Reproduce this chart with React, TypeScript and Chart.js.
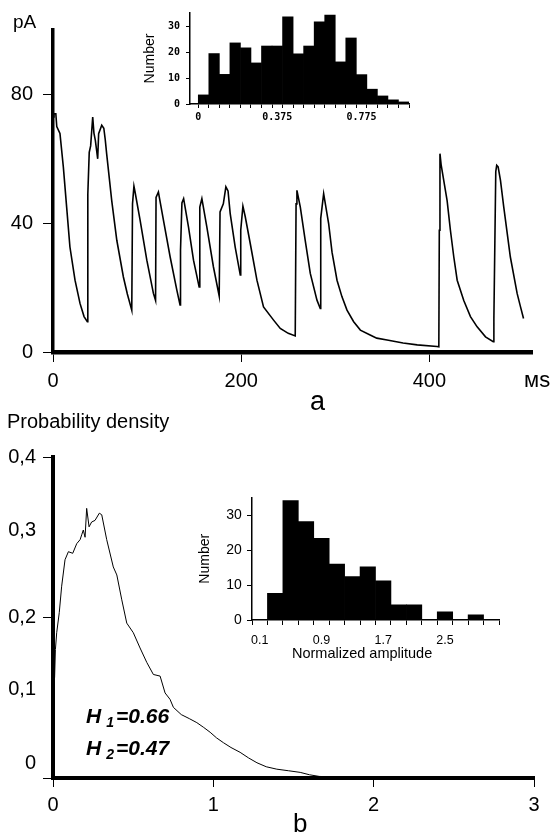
import React, { useEffect, useRef } from "react";
import { Chart, registerables } from "chart.js";

Chart.register(...registerables);

// ---------------- Panel a: current trace ----------------
const timeMs = [
  0, 1, 3, 4, 7.4, 11, 14.5, 18, 23.4, 28.7, 33, 36.5,
  37, 38.5, 40, 42.2, 43.5, 45, 47.5, 48.5, 51.8, 54, 55.5,
  57, 62.4, 67.8, 74.8, 79, 83.7,
  84.5, 86, 87, 92.5, 99.7, 106.7, 109,
  109.5, 112, 113, 117.3, 124.5, 131.6, 135,
  135.5, 137, 138.8, 144, 149.3, 155.3,
  156, 158.2, 163.5, 170.5, 176.6,
  177.5, 181, 183.7, 186, 188.3, 193.6, 199,
  199.5, 201.8, 204.3, 209.6, 216.7, 223.7, 234.4, 241.5, 250, 257.4,
  258.3, 259.2, 262.8, 268, 273.4, 280.5, 284,
  284.5, 287.6, 292.9, 296.5, 301.8, 307, 312.4, 319.5, 326.6, 337, 344, 355, 372, 387, 408, 410,
  410.5, 411.2, 412.5, 418.8, 422.3, 425.9, 429.5, 436.5, 443.6, 450.7, 459.6, 467.8,
  468.5, 470.5, 471.5, 473, 475.5, 479, 486, 493.2, 496.8, 500,
];
const currentPa = [
  73, 74, 74, 70, 67.9, 57.4, 45, 32.6, 22.3, 15.1, 11, 9.4,
  49, 62, 64, 73, 68, 65.7, 60, 67.8, 70.4, 69.5, 66,
  61.6, 47, 34.7, 23.3, 18, 13,
  46, 51.5, 50, 41, 28.5, 18.2, 16,
  48, 49.7, 48, 41, 29.5, 19.2, 14.6,
  31.6, 46.3, 47.6, 38.8, 28.5, 20.2,
  45, 47.6, 38.8, 26.4, 17.4,
  43.5, 46, 51.3, 50, 43, 32.6, 23.9,
  37.8, 45.3, 42, 33.7, 22.3, 14, 9.9, 7.3, 5.8, 5,
  46, 50.2, 45, 34.7, 24.4, 16.1, 13.5,
  41.5, 49.2, 39.9, 31, 22.3, 17.2, 13, 9.4, 6.8, 5.3, 4.3, 3.7, 2.8, 2.2, 1.7, 1.6,
  37.8, 61.6, 58, 47, 37.8, 29.5, 22.3, 16, 11, 7.8, 4.7, 3.2,
  10.4, 56, 58, 57.5, 53.3, 45, 29.5, 18.2, 14, 10.4,
];
const xTicksA = [0, 200, 400];
const yTicksA = [0, 40, 80];

// ---------------- Inset a: histogram ----------------
const insetABinStart = 0;
const insetABinWidth = 0.05;
const insetACounts = [
  3.5, 19.4, 11.4, 23.5, 21.6, 15.8, 22.3, 22.3, 33.5, 19.3,
  22.3, 31.6, 34.2, 16.2, 25.4, 11.3, 5.7, 3.1, 1.6, 0.8,
];
const insetALabelValues = [0, 0.375, 0.775];
const insetALabelTexts = ["0", "0.375", "0.775"];
const insetAYTicks = [0, 10, 20, 30];

// ---------------- Panel b: probability density ----------------
const ampB = [
  0.01, 0.015, 0.023, 0.039, 0.054, 0.075, 0.096, 0.123, 0.148, 0.169,
  0.179, 0.189, 0.2, 0.21, 0.225, 0.241, 0.262, 0.289, 0.304, 0.335,
  0.376, 0.398, 0.429, 0.46, 0.501, 0.543, 0.585, 0.626, 0.668, 0.699,
  0.73, 0.751, 0.8, 0.85, 0.897, 0.94, 0.98, 1.02, 1.063, 1.11,
  1.167, 1.22, 1.272, 1.33, 1.396, 1.47, 1.542, 1.6, 1.66, 1.75, 1.8,
];
const densityB = [
  0.125, 0.16, 0.181, 0.206, 0.239, 0.272, 0.282, 0.28, 0.292, 0.297,
  0.303, 0.309, 0.3, 0.336, 0.313, 0.319, 0.321, 0.33, 0.328, 0.297,
  0.263, 0.253, 0.222, 0.193, 0.181, 0.162, 0.144, 0.129, 0.127, 0.106,
  0.098, 0.088, 0.079, 0.074, 0.069, 0.063, 0.057, 0.05, 0.044, 0.038,
  0.032, 0.025, 0.019, 0.014, 0.011, 0.009, 0.007, 0.004, 0.002, 0.001, 0,
];
const xTicksB = [0, 1, 2, 3];
const yTicksB = [0, 0.1, 0.2, 0.3, 0.4];
const yTickLabelsB = ["0", "0,1", "0,2", "0,3", "0,4"];
const yTickMarksB = [0, 0.2, 0.4];

// ---------------- Inset b: histogram ----------------
const insetBBinStart = 0;
const insetBBinWidth = 0.2;
const insetBCounts = [0, 7.6, 34.1, 28.1, 23.3, 16, 12.4, 15.2, 11.2, 4.3, 4.3, 0, 2.3, 0, 1.5, 0];
const insetBLabelValues = [0.1, 0.9, 1.7, 2.5];
const insetBLabelTexts = ["0.1", "0.9", "1.7", "2.5"];
const insetBYTicks = [0, 10, 20, 30];

// ---------------- helpers ----------------
const FONT = '"Liberation Sans", Arial, Helvetica, sans-serif';
const PIXEL_FONT = '"DejaVu Sans Mono", monospace';
const near = (a: number, b: number) => Math.abs(a - b) < 1e-6;
const binEdges = (start: number, w: number, n: number) =>
  Array.from({ length: n + 1 }, (_, i) => +(start + i * w).toFixed(6));
const binBars = (start: number, w: number, counts: number[]) =>
  counts.map((c, i) => ({ x: +(start + (i + 0.5) * w).toFixed(6), y: c }));

const setTicks = (vals: number[]) => (s: any) => {
  s.ticks = vals.map((v) => ({ value: v }));
};

function mainAConfig(): any {
  return {
    type: "line",
    data: {
      datasets: [
        {
          data: timeMs.map((t, i) => ({ x: t, y: currentPa[i] })),
          borderColor: "#000",
          borderWidth: 1.6,
          pointRadius: 0,
          tension: 0,
          fill: false,
        },
      ],
    },
    options: {
      animation: false,
      responsive: false,
      maintainAspectRatio: false,
      events: [],
      layout: { padding: { left: 0, top: 30, right: 22, bottom: 0 } },
      plugins: { legend: { display: false }, tooltip: { enabled: false } },
      scales: {
        x: {
          type: "linear",
          min: 0,
          max: 509,
          offset: false,
          afterBuildTicks: setTicks(xTicksA),
          afterFit: (s: any) => {
            s.height = 48;
          },
          grid: { drawOnChartArea: false, tickLength: 10, tickWidth: 1, tickColor: "#000", offset: false },
          border: { display: true, color: "#000", width: 4.5 },
          ticks: {
            color: "#000",
            font: { family: FONT, size: 20 },
            padding: 7,
            maxRotation: 0,
            autoSkip: false,
            callback: (v: any) => String(v),
          },
        },
        y: {
          type: "linear",
          min: 0,
          max: 100,
          afterBuildTicks: setTicks(yTicksA),
          afterFit: (s: any) => {
            s.width = 53;
          },
          grid: { drawOnChartArea: false, tickLength: 10, tickWidth: 1, tickColor: "#000" },
          border: { display: true, color: "#000", width: 3.5 },
          ticks: {
            color: "#000",
            font: { family: FONT, size: 20 },
            padding: 10,
            autoSkip: false,
            callback: (v: any) => String(v),
          },
        },
      },
    },
  };
}

function histConfig(opts: {
  start: number;
  width: number;
  counts: number[];
  labelValues: number[];
  labelTexts: string[];
  yTicks: number[];
  xMin: number;
  xMax: number;
  yMax: number;
  padding: any;
  yWidth: number;
  xHeight: number;
  tickLen: number;
  xFont: any;
  yFont: any;
  xPad: number;
  yPad: number;
  yTitleFont: any;
  yTitlePad: number;
  axisWidth: number;
}): any {
  const edges = binEdges(opts.start, opts.width, opts.counts.length);
  return {
    type: "bar",
    data: {
      datasets: [
        {
          xAxisID: "x",
          yAxisID: "y",
          data: binBars(opts.start, opts.width, opts.counts),
          backgroundColor: "#000",
          borderWidth: 0,
          barPercentage: 1,
          categoryPercentage: 1,
        },
      ],
    },
    options: {
      animation: false,
      responsive: false,
      maintainAspectRatio: false,
      events: [],
      layout: { padding: opts.padding },
      plugins: { legend: { display: false }, tooltip: { enabled: false } },
      scales: {
        x: {
          type: "linear",
          position: "bottom",
          weight: 0,
          min: opts.xMin,
          max: opts.xMax,
          offset: false,
          afterBuildTicks: setTicks(edges),
          afterFit: (s: any) => {
            s.height = opts.tickLen;
          },
          grid: {
            drawOnChartArea: false,
            offset: false,
            tickLength: opts.tickLen,
            tickWidth: 1,
            tickColor: "#000",
          },
          border: { display: true, color: "#000", width: opts.axisWidth },
          ticks: { display: false, autoSkip: false, maxRotation: 0 },
        },
        xl: {
          type: "linear",
          axis: "x",
          position: "bottom",
          weight: 1,
          min: opts.xMin,
          max: opts.xMax,
          offset: false,
          afterBuildTicks: setTicks(opts.labelValues),
          afterFit: (s: any) => {
            s.height = opts.xHeight - opts.tickLen;
          },
          grid: { display: false, drawOnChartArea: false, drawTicks: false },
          border: { display: false },
          ticks: {
            color: "#000",
            font: opts.xFont,
            padding: opts.xPad,
            maxRotation: 0,
            minRotation: 0,
            autoSkip: false,
            callback: (v: any) => {
              const i = opts.labelValues.findIndex((l) => near(l, Number(v)));
              return i >= 0 ? opts.labelTexts[i] : "";
            },
          },
        },
        y: {
          type: "linear",
          min: 0,
          max: opts.yMax,
          afterBuildTicks: setTicks(opts.yTicks),
          afterFit: (s: any) => {
            s.width = opts.yWidth;
          },
          grid: { drawOnChartArea: false, tickLength: opts.tickLen, tickWidth: 1, tickColor: "#000" },
          border: { display: true, color: "#000", width: opts.axisWidth },
          title: {
            display: true,
            text: "Number",
            color: "#000",
            font: opts.yTitleFont,
            padding: { top: opts.yTitlePad, bottom: 0 },
          },
          ticks: {
            color: "#000",
            font: opts.yFont,
            padding: opts.yPad,
            autoSkip: false,
            callback: (v: any) => String(v),
          },
        },
      },
    },
  };
}

function mainBConfig(): any {
  // vertical nudges of the y tick labels, as set in the original figure
  const labelShift = [-15, -8, 0, -7, 0];
  return {
    type: "line",
    data: {
      datasets: [
        {
          data: ampB.map((a, i) => ({ x: a, y: densityB[i] })),
          borderColor: "#000",
          borderWidth: 1,
          pointRadius: 0,
          tension: 0,
          fill: false,
        },
      ],
    },
    plugins: [
      {
        id: "yLabelsB",
        afterDraw(chart: any) {
          const s = chart.scales.y;
          const ctx = chart.ctx;
          ctx.save();
          ctx.font = `20px ${FONT}`;
          ctx.fillStyle = "#000";
          ctx.textAlign = "right";
          ctx.textBaseline = "middle";
          yTicksB.forEach((v, i) => {
            ctx.fillText(yTickLabelsB[i], s.right - 17, s.getPixelForValue(v) + labelShift[i]);
          });
          ctx.restore();
        },
      },
    ],
    options: {
      animation: false,
      responsive: false,
      maintainAspectRatio: false,
      events: [],
      layout: { padding: { left: 0, top: 57, right: 20, bottom: 0 } },
      plugins: { legend: { display: false }, tooltip: { enabled: false } },
      scales: {
        x: {
          type: "linear",
          min: 0,
          max: 3,
          offset: false,
          afterBuildTicks: setTicks(xTicksB),
          afterFit: (s: any) => {
            s.height = 57;
          },
          grid: { drawOnChartArea: false, tickLength: 9, tickWidth: 1, tickColor: "#000", offset: false },
          border: { display: true, color: "#000", width: 4 },
          ticks: {
            color: "#000",
            font: { family: FONT, size: 20 },
            padding: 6,
            maxRotation: 0,
            autoSkip: false,
            callback: (v: any) => String(v),
          },
        },
        y: {
          type: "linear",
          min: 0,
          max: 0.4,
          afterBuildTicks: setTicks(yTicksB),
          afterFit: (s: any) => {
            s.width = 53;
          },
          grid: {
            drawOnChartArea: false,
            tickLength: 10,
            tickWidth: 1,
            tickColor: (ctx: any) =>
              ctx.tick && yTickMarksB.some((m) => near(m, ctx.tick.value)) ? "#000" : "rgba(0,0,0,0)",
          },
          border: { display: true, color: "#000", width: 4 },
          ticks: { display: false, autoSkip: false },
        },
      },
    },
  };
}

function ChartCanvas(props: { left: number; top: number; width: number; height: number; make: () => any }) {
  const ref = useRef<HTMLCanvasElement | null>(null);
  useEffect(() => {
    if (!ref.current) return;
    const chart = new Chart(ref.current, props.make());
    return () => chart.destroy();
  }, []);
  return (
    <canvas
      ref={ref}
      width={props.width}
      height={props.height}
      style={{
        position: "absolute",
        left: props.left,
        top: props.top,
        width: props.width,
        height: props.height,
        display: "block",
      }}
    />
  );
}

const textStyle = (left: number, top: number, size: number, extra: any = {}): any => ({
  position: "absolute",
  left,
  top,
  fontFamily: FONT,
  fontSize: size,
  lineHeight: 1,
  whiteSpace: "nowrap",
  color: "#000",
  ...extra,
});

export default function App() {
  return (
    <div
      style={{
        position: "absolute",
        left: 0,
        top: 0,
        width: 554,
        height: 835,
        background: "#fff",
        overflow: "hidden",
      }}
    >
      <ChartCanvas left={0} top={0} width={554} height={400} make={mainAConfig} />
      <ChartCanvas
        left={130}
        top={0}
        width={300}
        height={125}
        make={() =>
          histConfig({
            start: insetABinStart,
            width: insetABinWidth,
            counts: insetACounts,
            labelValues: insetALabelValues,
            labelTexts: insetALabelTexts,
            yTicks: insetAYTicks,
            xMin: -0.0393,
            xMax: 1.0,
            yMax: 35,
            padding: { left: 0, top: 13, right: 21, bottom: 0 },
            yWidth: 60,
            xHeight: 21,
            tickLen: 4,
            xFont: { family: PIXEL_FONT, size: 10, weight: "bold" },
            yFont: { family: PIXEL_FONT, size: 10, weight: "bold" },
            xPad: 3,
            yPad: 6,
            yTitleFont: { family: FONT, size: 14 },
            yTitlePad: 11.6,
            axisWidth: 1.5,
          })
        }
      />
      <ChartCanvas left={0} top={400} width={554} height={435} make={mainBConfig} />
      <ChartCanvas
        left={190}
        top={470}
        width={340}
        height={200}
        make={() =>
          histConfig({
            start: insetBBinStart,
            width: insetBBinWidth,
            counts: insetBCounts,
            labelValues: insetBLabelValues,
            labelTexts: insetBLabelTexts,
            yTicks: insetBYTicks,
            xMin: 0,
            xMax: 3.2,
            yMax: 35,
            padding: { left: 0, top: 27.5, right: 31, bottom: 0 },
            yWidth: 62,
            xHeight: 50,
            tickLen: 5,
            xFont: { family: FONT, size: 12.5 },
            yFont: { family: FONT, size: 14 },
            xPad: 8.5,
            yPad: 5.3,
            yTitleFont: { family: FONT, size: 14 },
            yTitlePad: 6.6,
            axisWidth: 1.5,
          })
        }
      />

      <div style={textStyle(13, 12, 19)}>pA</div>
      <div style={textStyle(524, 369, 22)}>мs</div>
      <div style={textStyle(310, 388, 27)}>a</div>

      <div style={textStyle(7, 411, 20)}>Probability density</div>
      <div style={textStyle(292, 646, 14.5)}>Normalized amplitude</div>
      <div style={textStyle(86, 705, 21, { fontStyle: "italic", fontWeight: "bold" })}>
        H
        <span style={{ fontSize: 14, position: "relative", top: 4, marginLeft: 5, marginRight: 2 }}>1</span>
        =0.66
      </div>
      <div style={textStyle(86, 737, 21, { fontStyle: "italic", fontWeight: "bold" })}>
        H
        <span style={{ fontSize: 14, position: "relative", top: 4, marginLeft: 5, marginRight: 2 }}>2</span>
        =0.47
      </div>
      <div style={textStyle(293, 810, 26)}>b</div>
    </div>
  );
}
